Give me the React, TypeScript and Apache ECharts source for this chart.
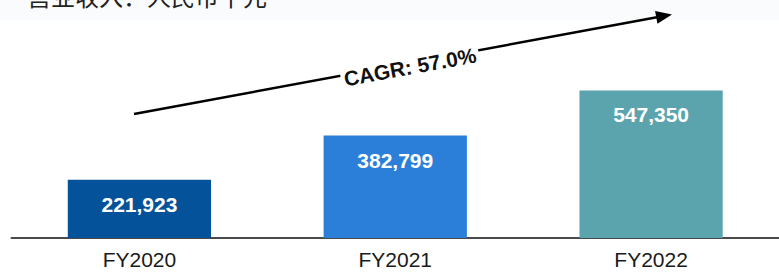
import React, { useEffect, useRef } from "react";
import * as echarts from "echarts";

const categories = ["FY2020", "FY2021", "FY2022"];
const revenue = [221923, 382799, 547350];
const barColors = ["#04539a", "#2c7fd8", "#5ba4ae"];
const titleText = "营业收入：人民币千元";
const cagrText = "CAGR: 57.0%";

export default function App() {
  const ref = useRef<HTMLDivElement>(null);
  useEffect(() => {
    document.body.style.margin = "0";
    const chart = echarts.init(ref.current!, null, { renderer: "svg" });
    // arrow geometry
    const x0 = 134, y0 = 114, x1 = 672, y1 = 14.5;
    const len = Math.hypot(x1 - x0, y1 - y0);
    const ux = (x1 - x0) / len, uy = (y1 - y0) / len;
    const nx = -uy, ny = ux;
    const headL = 16, headW = 6.5;
    const bx = x1 - headL * ux, by = y1 - headL * uy;
    const angle = Math.atan2(-(y1 - y0), x1 - x0);
    chart.setOption({
      animation: false,
      backgroundColor: "#ffffff",
      grid: { left: 11.5, right: -4, top: 21, bottom: 35, containLabel: false },
      xAxis: {
        type: "category",
        data: categories,
        axisLine: { show: true, lineStyle: { color: "#4a4a4a", width: 2 } },
        axisTick: { show: false },
        axisLabel: {
          color: "#1a1a1a",
          fontSize: 21,
          fontFamily: "Liberation Sans, Arial, sans-serif",
          margin: 11,
        },
      },
      yAxis: {
        type: "value",
        min: 10000,
        max: 800000,
        show: false,
        splitLine: { show: false },
      },
      series: [
        {
          type: "bar",
          barWidth: "56%",
          data: revenue.map((v, i) => ({ value: v, itemStyle: { color: barColors[i] } })),
          label: {
            show: true,
            position: "insideTop",
            distance: 14,
            color: "#ffffff",
            fontSize: 21,
            fontWeight: "bold",
            fontFamily: "Liberation Sans, Arial, sans-serif",
            formatter: (p: any) => Number(p.value).toLocaleString("en-US"),
          },
        },
      ],
      graphic: [
        {
          type: "rect",
          z: -1,
          shape: { x: 0, y: 0, width: 779, height: 20 },
          style: { fill: "#fafbfd" },
          silent: true,
        },
        {
          type: "text",
          x: 27,
          y: 7,
          style: {
            text: titleText,
            fontSize: 24,
            fontFamily: "Noto Sans CJK SC, sans-serif",
            fill: "#222",
            textVerticalAlign: "bottom",
            textAlign: "left",
          },
        },
        {
          type: "line",
          shape: { x1: x0, y1: y0, x2: bx + ux * 2, y2: by + uy * 2 },
          style: { stroke: "#000", lineWidth: 2.5 },
          z: 10,
        },
        {
          type: "polygon",
          shape: {
            points: [
              [x1, y1],
              [bx + headW * nx, by + headW * ny],
              [bx - headW * nx, by - headW * ny],
            ],
          },
          style: { fill: "#000" },
          z: 10,
        },
        {
          type: "text",
          x: 410,
          y: 67,
          rotation: angle,
          z: 11,
          style: {
            text: cagrText,
            fontSize: 21,
            fontWeight: "bold",
            fontFamily: "Liberation Sans, Arial, sans-serif",
            fill: "#111",
            align: "center",
            verticalAlign: "middle",
            backgroundColor: "#ffffff",
            padding: [0, 3],
          },
        },
      ],
    });
    return () => chart.dispose();
  }, []);
  return <div ref={ref} style={{ width: 779, height: 273 }} />;
}
